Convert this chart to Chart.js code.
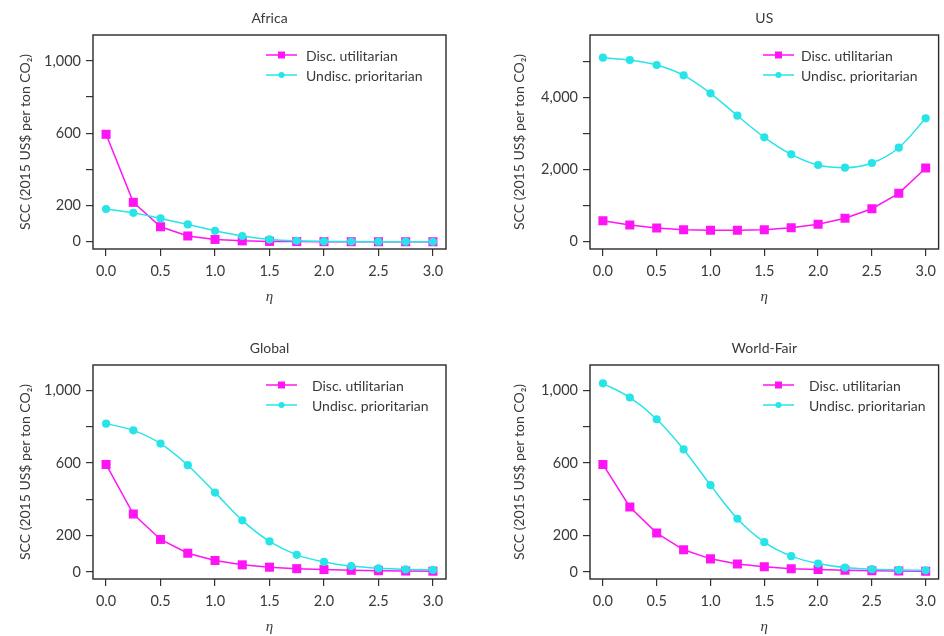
<!DOCTYPE html>
<html>
<head>
<meta charset="utf-8">
<script src="https://cdn.jsdelivr.net/npm/chart.js@4"></script>
<style>
  html, body { margin: 0; padding: 0; background: #fff; overflow: hidden; }
  body { width: 944px; height: 636px; position: relative; }
  .panel { position: absolute; height: 318px; }
</style>
</head>
<body>
<div class="panel" style="left:0;top:0;width:460px"><canvas id="africa"></canvas></div>
<div class="panel" style="left:497px;top:0;width:448px"><canvas id="us"></canvas></div>
<div class="panel" style="left:0;top:330px;width:460px"><canvas id="global"></canvas></div>
<div class="panel" style="left:497px;top:330px;width:448px"><canvas id="fair"></canvas></div>
<script>
// eta values along the x axis
const eta = [0, 0.25, 0.5, 0.75, 1.0, 1.25, 1.5, 1.75, 2.0, 2.25, 2.5, 2.75, 3.0];
const xTicks = [0, 0.5, 1.0, 1.5, 2.0, 2.5, 3.0];
const seriesNames = ["Disc. utilitarian", "Undisc. prioritarian"];

const africaDisc = [594, 218, 83, 32, 13, 5, 2, 1, 0.5, 0.3, 0.2, 0.1, 0.1];
const africaUndisc = [181, 160, 129, 96, 61, 32, 13, 5, 2, 1, 0.5, 0.3, 0.2];

const usDisc = [582, 463, 380, 332, 316, 316, 332, 388, 482, 648, 914, 1341, 2042];
const usUndisc = [5097, 5033, 4895, 4609, 4111, 3490, 2892, 2421, 2125, 2050, 2180, 2604, 3418];

const globalDisc = [592, 319, 179, 103, 63, 39, 26, 18, 13, 9, 7, 5, 4];
const globalUndisc = [817, 780, 707, 588, 437, 284, 168, 94, 55, 32, 20, 14, 11];

const fairDisc = [592, 358, 214, 122, 72, 44, 28, 18, 13, 9, 7, 5, 4];
const fairUndisc = [1039, 961, 841, 675, 478, 293, 164, 87, 46, 24, 15, 11, 9];

const smallTicks = [0, 200, 400, 600, 800, 1000];
const smallLabels = ["0", "200", "", "600", "", "1,000"];
const usTicks = [0, 1000, 2000, 3000, 4000, 5000];
const usLabels = ["0", "", "2,000", "", "4,000", ""];

const MAGENTA = "#ff14f5";
const CYAN = "#27e4e8";
const INK = "#3a3a3a";

function toPoints(values) {
    return values.map((v, i) => ({ x: eta[i], y: v }));
}

// box around the plot plus a legend drawn inside the plot area
const frameLegend = {
    id: "frameLegend",
    afterDatasetsDraw(chart, args, opts) {
        const ctx = chart.ctx;
        const a = chart.chartArea;
        ctx.save();
        ctx.strokeStyle = "#2a2a2a";
        ctx.lineWidth = 1.4;
        ctx.strokeRect(a.left, a.top, a.right - a.left, a.bottom - a.top);

        ctx.font = "14px Lato";
        ctx.textBaseline = "middle";
        const x0 = a.left + 173;
        chart.data.datasets.forEach((ds, i) => {
            const y = a.top + 20 + i * 20;
            ctx.strokeStyle = ds.borderColor;
            ctx.fillStyle = ds.borderColor;
            ctx.lineWidth = 1.5;
            ctx.beginPath();
            ctx.moveTo(x0, y);
            ctx.lineTo(x0 + 31, y);
            ctx.stroke();
            if (ds.pointStyle === "rect") {
                ctx.fillRect(x0 + 12, y - 3.5, 7, 7);
            } else {
                ctx.beginPath();
                ctx.arc(x0 + 15.5, y, 3, 0, Math.PI * 2);
                ctx.fill();
            }
            ctx.fillStyle = INK;
            ctx.fillText(ds.label, a.left + opts.textX, y + 1);
        });
        ctx.restore();
    },
};

function makeChart(id, title, disc, undisc, yTicks, yLabels, yMin, yMax, padRight, yTitlePad, textX) {
    return new Chart(document.getElementById(id), {
        type: "line",
        data: {
            datasets: [
                {
                    label: seriesNames[0],
                    data: toPoints(disc),
                    borderColor: MAGENTA,
                    backgroundColor: MAGENTA,
                    pointStyle: "rect",
                    pointRadius: 6.4,
                    pointBorderWidth: 0,
                    borderWidth: 1.5,
                    tension: 0,
                    order: 1,
                },
                {
                    label: seriesNames[1],
                    data: toPoints(undisc),
                    borderColor: CYAN,
                    backgroundColor: CYAN,
                    pointStyle: "circle",
                    pointRadius: 4.1,
                    pointBorderWidth: 0,
                    borderWidth: 1.5,
                    cubicInterpolationMode: "monotone",
                    order: 0,
                },
            ],
        },
        options: {
            responsive: true,
            maintainAspectRatio: false,
            animation: false,
            layout: { padding: { left: 0, right: padRight, top: 0, bottom: 0 } },
            plugins: {
                legend: { display: false },
                tooltip: { enabled: false },
                title: {
                    display: true,
                    text: title,
                    fullSize: false,
                    color: INK,
                    font: { family: "Lato", size: 14, weight: "normal", lineHeight: "16px" },
                    padding: { top: 10, bottom: 9 },
                },
                frameLegend: { textX: textX },
            },
            scales: {
                x: {
                    type: "linear",
                    min: -0.12,
                    max: 3.12,
                    afterBuildTicks: (s) => {
                        s.ticks = xTicks.map((v) => ({ value: v }));
                    },
                    afterFit: (s) => {
                        s.height = 69;
                    },
                    ticks: {
                        callback: (v) => Number(v).toFixed(1),
                        color: INK,
                        font: { family: "Lato", size: 14.5 },
                        padding: 7,
                        maxRotation: 0,
                        autoSkip: false,
                    },
                    grid: { drawOnChartArea: false, tickLength: 7, color: "#333", lineWidth: 1.2 },
                    border: { display: false },
                    title: {
                        display: true,
                        text: "η",
                        color: INK,
                        font: { family: "Liberation Serif", style: "italic", size: 15 },
                        padding: { top: 0, bottom: 12 },
                    },
                },
                y: {
                    min: yMin,
                    max: yMax,
                    afterBuildTicks: (s) => {
                        s.ticks = yTicks.map((v) => ({ value: v }));
                    },
                    afterFit: (s) => {
                        s.width = 93;
                    },
                    ticks: {
                        callback: (v, i) => yLabels[i],
                        color: INK,
                        font: { family: "Lato", size: 14.5 },
                        padding: 5,
                        autoSkip: false,
                    },
                    grid: { drawOnChartArea: false, tickLength: 7, color: "#333", lineWidth: 1.2 },
                    border: { display: false },
                    title: {
                        display: true,
                        text: "SCC (2015 US$ per ton CO₂)",
                        color: INK,
                        font: { family: "Lato", size: 14 },
                        padding: { top: yTitlePad, bottom: 0 },
                    },
                },
            },
        },
        plugins: [frameLegend],
    });
}

makeChart("africa", "Africa", africaDisc, africaUndisc, smallTicks, smallLabels, -40, 1143, 14, 17.5, 213);
makeChart("us", "US", usDisc, usUndisc, usTicks, usLabels, -202, 5726, 2, 14, 211);
makeChart("global", "Global", globalDisc, globalUndisc, smallTicks, smallLabels, -39, 1140, 14, 17.5, 219);
makeChart("fair", "World-Fair", fairDisc, fairUndisc, smallTicks, smallLabels, -39, 1140, 2, 14, 219);
</script>
</body>
</html>
